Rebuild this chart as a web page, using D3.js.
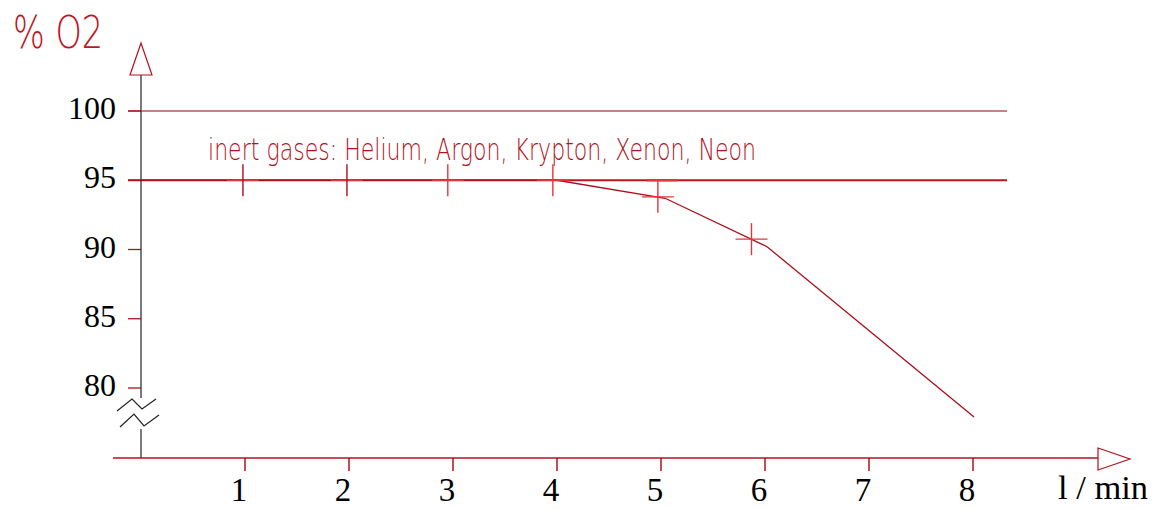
<!DOCTYPE html>
<html>
<head>
<meta charset="utf-8">
<script src="https://cdn.jsdelivr.net/npm/d3@7"></script>
<style>
body { margin: 0; background: #fff; }
svg { display: block; }
</style>
</head>
<body>
<div id="chart"></div>
<script>
const width = 1155;
const height = 509;

// data
const yTicks = [80, 85, 90, 95, 100];
const xTicks = [1, 2, 3, 4, 5, 6, 7, 8];
const refLines = [100, 95];
const lineX = [0, 1, 2, 3, 4, 5.04, 6.02, 8.01];
const lineY = [95, 95, 95, 95, 95, 93.7, 90.2, 77.9];
const markX = [0.98, 1.98, 2.95, 3.96, 4.97, 5.87];
const markY = [95, 95, 95, 95, 93.8, 90.75];
const dashX = [5];
const dashY = [95];
const seriesLabel = 'inert gases: Helium, Argon, Krypton, Xenon, Neon';

const x = d3.scaleLinear().domain([0, 8]).range([141, 973]);
const y = d3.scaleLinear().domain([80, 100]).range([388, 111]);

const svg = d3.select('#chart').append('svg').attr('width', width).attr('height', height);

const red = '#b3121c';
const axisY = 458;
const serif = '"Liberation Serif", "Times New Roman", serif';

// reference lines at 100 and 95
svg.selectAll('.ref')
  .data(refLines)
  .enter()
  .append('line')
  .attr('x1', 128).attr('x2', 1007)
  .attr('y1', d => y(d)).attr('y2', d => y(d))
  .attr('stroke', d => d === 95 ? '#c0141e' : '#8a0a10')
  .attr('stroke-width', d => d === 95 ? 2 : 1.1);

// y ticks
svg.selectAll('.ytick')
  .data(yTicks)
  .enter()
  .append('line')
  .attr('x1', 128).attr('x2', x(0))
  .attr('y1', d => y(d)).attr('y2', d => y(d))
  .attr('stroke', red).attr('stroke-width', 1.3);

svg.selectAll('.ylabel')
  .data(yTicks)
  .enter()
  .append('text')
  .attr('x', 116)
  .attr('y', d => y(d) + 8)
  .attr('text-anchor', 'end')
  .style('font-family', serif)
  .style('font-size', '32px')
  .attr('fill', '#000')
  .text(d => d);

// y axis with break
svg.append('line')
  .attr('x1', x(0)).attr('x2', x(0))
  .attr('y1', 72).attr('y2', 398)
  .attr('stroke', '#333').attr('stroke-width', 1.3);
svg.append('line')
  .attr('x1', x(0)).attr('x2', x(0))
  .attr('y1', 429).attr('y2', axisY)
  .attr('stroke', '#333').attr('stroke-width', 1.3);

const zig = [
  [[117, 411], [132, 399], [142, 409], [156, 399]],
  [[120, 427], [134, 414], [144, 426], [159, 415]]
];
svg.selectAll('.brk')
  .data(zig)
  .enter()
  .append('polyline')
  .attr('points', d => d.map(p => p.join(',')).join(' '))
  .attr('fill', 'none')
  .attr('stroke', '#222').attr('stroke-width', 1.2);

// y arrow
svg.append('polygon')
  .attr('points', `${x(0)},43 ${x(0) - 11},75 ${x(0) + 11},75`)
  .attr('fill', '#fff')
  .attr('stroke', red).attr('stroke-width', 1.2);

// x axis
svg.append('line')
  .attr('x1', 113).attr('x2', 1098)
  .attr('y1', axisY).attr('y2', axisY)
  .attr('stroke', red).attr('stroke-width', 1.5);

svg.append('polygon')
  .attr('points', `1098,448 1130,459 1098,470`)
  .attr('fill', '#fff')
  .attr('stroke', red).attr('stroke-width', 1.2);

svg.selectAll('.xtick')
  .data(xTicks)
  .enter()
  .append('line')
  .attr('x1', d => x(d)).attr('x2', d => x(d))
  .attr('y1', axisY).attr('y2', 471)
  .attr('stroke', red).attr('stroke-width', 1.5);

svg.selectAll('.xlabel')
  .data(xTicks)
  .enter()
  .append('text')
  .attr('x', d => x(d) - 6)
  .attr('y', 501)
  .attr('text-anchor', 'middle')
  .style('font-family', serif)
  .style('font-size', '33px')
  .attr('fill', '#000')
  .text(d => d);

svg.append('text')
  .attr('x', 1058)
  .attr('y', 499)
  .attr('textLength', 90)
  .attr('lengthAdjust', 'spacingAndGlyphs')
  .style('font-family', serif)
  .style('font-size', '33px')
  .attr('fill', '#000')
  .text('l / min');

// y axis title
svg.append('text')
  .attr('x', 13)
  .attr('y', 48)
  .attr('textLength', 90)
  .attr('lengthAdjust', 'spacingAndGlyphs')
  .style('font-family', '"DejaVu Sans", sans-serif')
  .style('font-size', '45px')
  .style('font-weight', 200)
  .attr('fill', '#c0141e')
  .text('% O2');

// series label
svg.append('text')
  .attr('x', 208)
  .attr('y', 160)
  .attr('textLength', 548)
  .attr('lengthAdjust', 'spacingAndGlyphs')
  .style('font-family', '"DejaVu Sans", sans-serif')
  .style('font-size', '31px')
  .style('font-weight', 200)
  .attr('fill', '#b3121c')
  .text(seriesLabel);

// series line
const pts = lineX.map((v, i) => [v, lineY[i]]);
svg.append('path')
  .datum(pts)
  .attr('d', d3.line().x(d => x(d[0])).y(d => y(d[1])))
  .attr('fill', 'none')
  .attr('stroke', '#a8101a').attr('stroke-width', 1.3);

// plus markers
const marks = markX.map((v, i) => [v, markY[i]]);
const mk = svg.selectAll('.mark')
  .data(marks)
  .enter()
  .append('g')
  .attr('transform', d => `translate(${x(d[0])},${y(d[1])})`);
mk.append('line')
  .attr('x1', -16).attr('x2', 16).attr('y1', 0).attr('y2', 0)
  .attr('stroke', '#e8323c').attr('stroke-width', 1.4);
mk.append('line')
  .attr('x1', 0).attr('x2', 0).attr('y1', -16).attr('y2', 16)
  .attr('stroke', (d, i) => i < 2 ? '#a8101a' : '#e8323c').attr('stroke-width', 1.4);

// short dash on the 95 line
svg.selectAll('.dash')
  .data(dashX.map((v, i) => [v, dashY[i]]))
  .enter()
  .append('line')
  .attr('x1', d => x(d[0]) - 14).attr('x2', d => x(d[0]) + 16)
  .attr('y1', d => y(d[1])).attr('y2', d => y(d[1]))
  .attr('stroke', '#e8323c').attr('stroke-width', 2.5);
</script>
</body>
</html>
